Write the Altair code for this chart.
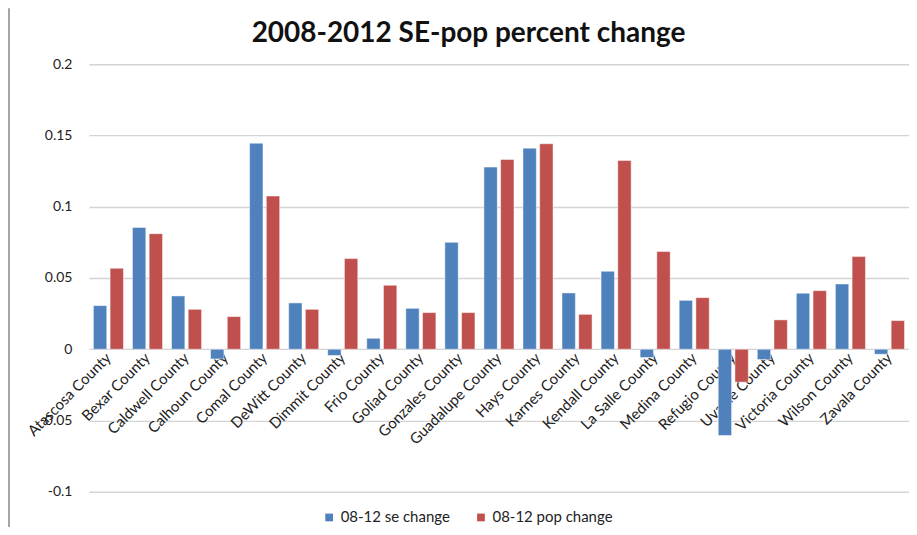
import altair as alt
import pandas as pd

counties = ["Atascosa County", "Bexar County", "Caldwell County", "Calhoun County",
            "Comal County", "DeWitt County", "Dimmit County", "Frio County",
            "Goliad County", "Gonzales County", "Guadalupe County", "Hays County",
            "Karnes County", "Kendall County", "La Salle County", "Medina County",
            "Refugio County", "Uvalde County", "Victoria County", "Wilson County",
            "Zavala County"]
se_change = [0.0306, 0.0855, 0.0374, -0.0068, 0.1446, 0.0325, -0.0044, 0.0077,
             0.0287, 0.0750, 0.1278, 0.1411, 0.0395, 0.0547, -0.0058, 0.0343,
             -0.0605, -0.0072, 0.0393, 0.0458, -0.0035]
pop_change = [0.0568, 0.0811, 0.0280, 0.0229, 0.1075, 0.0280, 0.0636, 0.0449,
              0.0257, 0.0257, 0.1332, 0.1442, 0.0245, 0.1325, 0.0685, 0.0362,
              -0.0231, 0.0206, 0.0411, 0.0650, 0.0201]
series = ["08-12 se change", "08-12 pop change"]
colors = ["#4F81BD", "#C0504D"]
y_ticks = [-0.1, -0.05, 0, 0.05, 0.1, 0.15, 0.2]
title_text = "2008-2012 SE-pop percent change"

rows = []
for i, c in enumerate(counties):
    rows.append({"county": c, "series": series[0], "value": se_change[i]})
    rows.append({"county": c, "series": series[1], "value": pop_change[i]})
df = pd.DataFrame(rows)

FONT = "Lato"

bars = alt.Chart(df).mark_bar(stroke="white", strokeOpacity=0.6, strokeWidth=0.8).encode(
    x=alt.X("county:N", sort=counties, title=None,
            scale=alt.Scale(paddingInner=0.23, paddingOuter=0.115),
            axis=alt.Axis(offset=-143, labelAngle=-45, labelAlign="right",
                          labelBaseline="middle", ticks=False, domain=False,
                          labelPadding=6, labelFontSize=15, labelFont=FONT,
                          labelColor="#222", grid=False)),
    xOffset=alt.XOffset("series:N", sort=series,
                        scale=alt.Scale(paddingInner=0.2)),
    y=alt.Y("value:Q", title=None,
            scale=alt.Scale(domain=[-0.1, 0.2], nice=False, zero=False),
            axis=alt.Axis(values=y_ticks, labelExpr="toString(datum.value)",
                          ticks=False, domain=False,
                          labelPadding=17, labelFontSize=14, labelFont=FONT,
                          labelColor="#222", gridColor="#d4d4d4", gridWidth=1.4)),
    color=alt.Color("series:N", sort=series,
                    scale=alt.Scale(domain=series, range=colors),
                    legend=alt.Legend(title=None, orient="none", direction="horizontal",
                                      legendX=233, legendY=446, symbolType="square",
                                      symbolSize=60, labelFontSize=15, labelFont=FONT,
                                      labelColor="#222", columnPadding=23,
                                      symbolStrokeWidth=0))
)

frame = alt.Chart(pd.DataFrame({"k": [0]})).mark_rule(color="#888", strokeWidth=1.5, clip=False).encode(
    x=alt.value(-80), y=alt.value(-56), y2=alt.value(480)
)

title = alt.Chart(pd.DataFrame({"t": [title_text]})).mark_text(
    font=FONT, fontSize=28, fontWeight="bold", color="#111",
    align="center", baseline="middle", clip=False
).encode(text="t:N", x=alt.value(380), y=alt.value(-30))

chart = alt.layer(bars, frame, title).properties(
    width=821, height=428,
    autosize=alt.AutoSizeParams(type="none"),
    padding={"left": 81, "top": 56, "right": 0, "bottom": 35},
).configure_view(stroke=None)

chart.save("out.html", embed_options={"renderer": "svg", "actions": False})
